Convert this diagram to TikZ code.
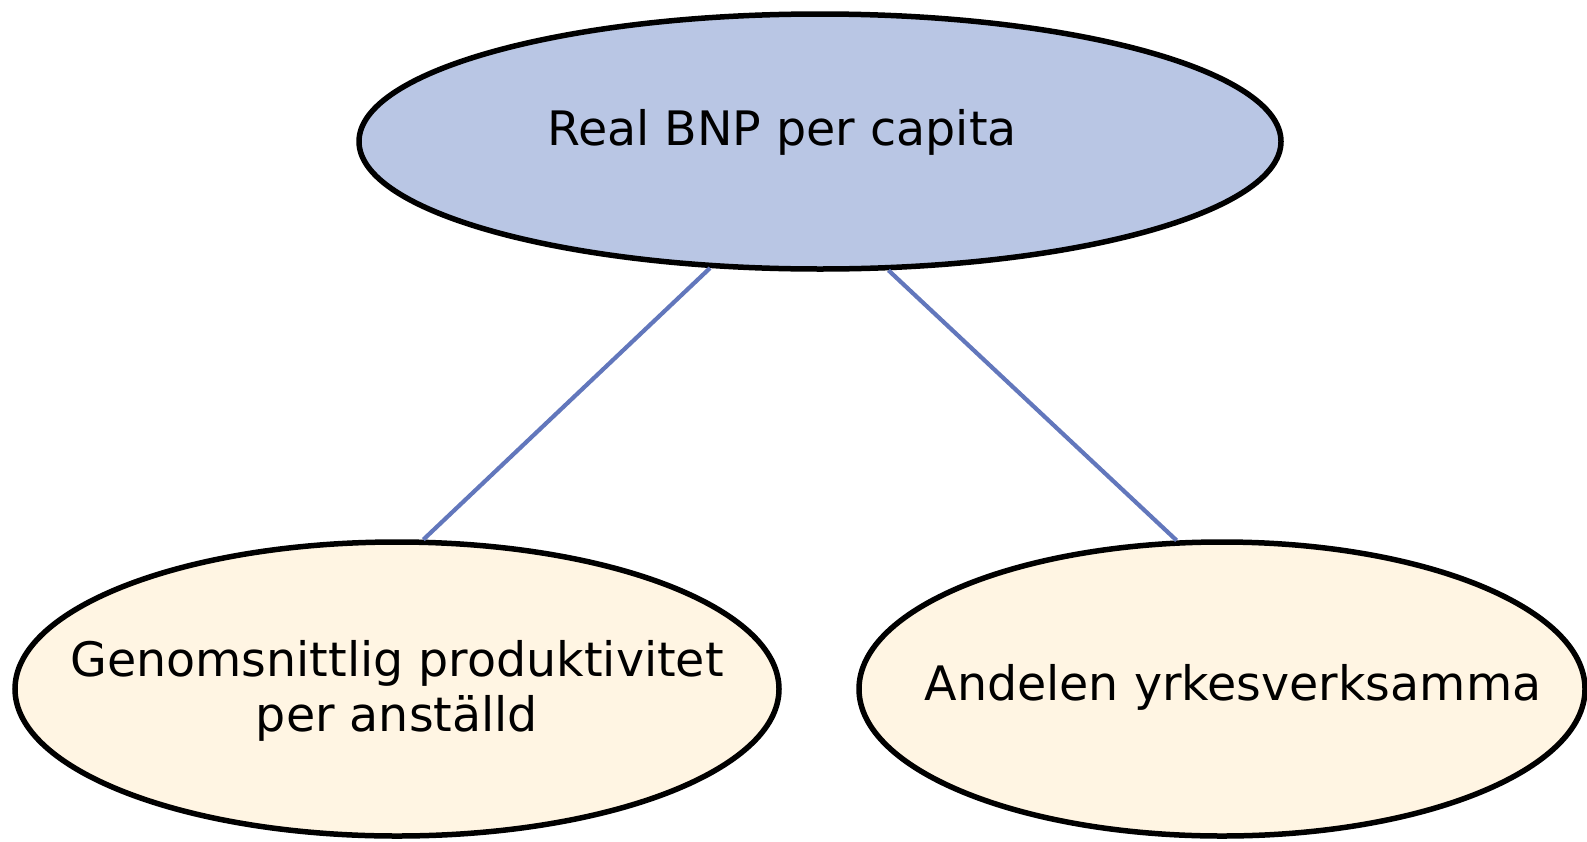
\documentclass[tikz,border=0pt]{standalone}
\usepackage{fontspec}
\setmainfont{DejaVu Sans}
\usetikzlibrary{shapes.geometric}
\definecolor{topfill}{RGB}{185,198,228}
\definecolor{botfill}{RGB}{255,245,227}
\definecolor{linkblue}{RGB}{98,119,188}
\begin{document}
\begin{tikzpicture}[x=1pt,y=-1pt,
  oval/.style={ellipse, draw=black, line width=5.5pt, inner sep=0pt},
  lbl/.style={font=\fontsize{47.5}{55}\selectfont, inner sep=0pt, anchor=base, align=center},
  link/.style={draw=linkblue, line width=4.2pt}]
\useasboundingbox (0,0) rectangle (1587,841);
\node[oval, fill=topfill, minimum width=922pt, minimum height=255pt] (top) at (820,141.5) {};
\node[oval, fill=botfill, minimum width=764pt, minimum height=294pt] (left) at (397,689) {};
\node[oval, fill=botfill, minimum width=726pt, minimum height=294pt] (right) at (1222,689) {};
\node[lbl] (toptext) at (782,145) {Real BNP per capita};
\node[lbl] (lefttext) at (397,731) {Genomsnittlig produktivitet\\per anställd};
\node[lbl] (righttext) at (1233,700) {Andelen yrkesverksamma};
\draw[link] (top.229) -- (left.80.5);
\draw[link] (top.298) -- (right.107);
\end{tikzpicture}
\end{document}
